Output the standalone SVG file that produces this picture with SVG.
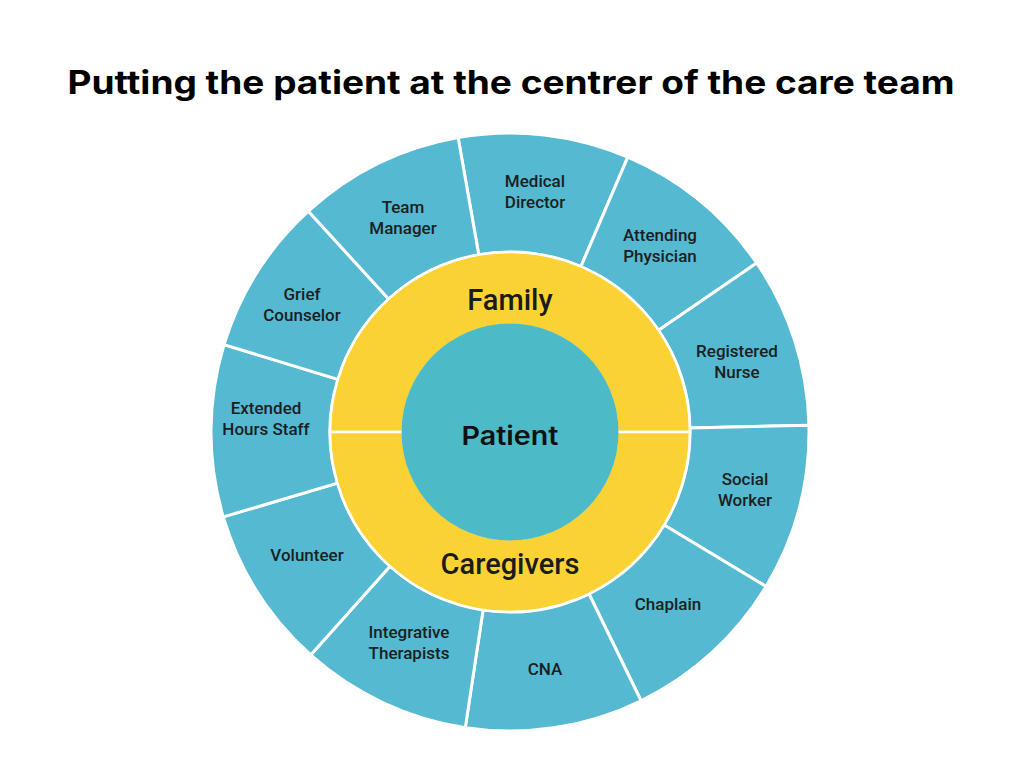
<svg xmlns="http://www.w3.org/2000/svg" width="1024" height="765" viewBox="0 0 1024 765">
<style>
.seg{fill:#54B9D1;stroke:#fff;stroke-width:3;stroke-linejoin:round}
.ring{fill:#FBD234;stroke:#fff;stroke-width:2.5}
.core{fill:#4CBBC7;stroke:none}
.lbl{font-family:Roboto,"Liberation Sans",sans-serif;font-weight:500;font-size:17px;fill:#1b1f22;text-anchor:middle}
.big{font-family:Roboto,"Liberation Sans",sans-serif;font-weight:500;font-size:29px;fill:#1b1b1b;text-anchor:middle}
.title{font-family:Inter,"Liberation Sans",sans-serif;font-weight:700;font-size:32px;fill:#000;text-anchor:middle}
.pat{font-family:Inter,"Liberation Sans",sans-serif;font-weight:600;font-size:26px;fill:#111;text-anchor:middle}
</style>
<rect width="1024" height="765" fill="#fff"/>
<text class="title" x="511" y="94" textLength="887" lengthAdjust="spacingAndGlyphs">Putting the patient at the centrer of the care team</text>

<g id="medical-director">
<path class="seg" d="M478.74 254.73 L458.08 137.54 A299 299 0 0 1 627.79 157.18 L580.91 266.55 A180 180 0 0 0 478.74 254.73 Z"/>
<text class="lbl" x="535" y="187">Medical</text><text class="lbl" x="535" y="208">Director</text>
</g>
<g id="attending-physician">
<path class="seg" d="M580.91 266.55 L627.79 157.18 A299 299 0 0 1 756.71 263.07 L658.52 330.31 A180 180 0 0 0 580.91 266.55 Z"/>
<text class="lbl" x="660" y="241">Attending</text><text class="lbl" x="660" y="262">Physician</text>
</g>
<g id="registered-nurse">
<path class="seg" d="M658.52 330.31 L756.71 263.07 A299 299 0 0 1 808.92 425.22 L689.95 427.92 A180 180 0 0 0 658.52 330.31 Z"/>
<text class="lbl" x="737" y="357">Registered</text><text class="lbl" x="737" y="378">Nurse</text>
</g>
<g id="social-worker">
<path class="seg" d="M689.95 427.92 L808.92 425.22 A299 299 0 0 1 766.03 586.44 L664.13 524.98 A180 180 0 0 0 689.95 427.92 Z"/>
<text class="lbl" x="745" y="485">Social</text><text class="lbl" x="745" y="506">Worker</text>
</g>
<g id="chaplain">
<path class="seg" d="M664.13 524.98 L766.03 586.44 A299 299 0 0 1 641.07 700.74 L588.91 593.78 A180 180 0 0 0 664.13 524.98 Z"/>
<text class="lbl" x="668" y="610">Chaplain</text>
</g>
<g id="cna">
<path class="seg" d="M588.91 593.78 L641.07 700.74 A299 299 0 0 1 465.29 727.64 L483.08 609.98 A180 180 0 0 0 588.91 593.78 Z"/>
<text class="lbl" x="545" y="675">CNA</text>
</g>
<g id="integrative-therapists">
<path class="seg" d="M483.08 609.98 L465.29 727.64 A299 299 0 0 1 310.71 654.90 L390.02 566.19 A180 180 0 0 0 483.08 609.98 Z"/>
<text class="lbl" x="409" y="638">Integrative</text><text class="lbl" x="409" y="659">Therapists</text>
</g>
<g id="volunteer">
<path class="seg" d="M390.02 566.19 L310.71 654.90 A299 299 0 0 1 223.31 516.92 L337.41 483.12 A180 180 0 0 0 390.02 566.19 Z"/>
<text class="lbl" x="307" y="561">Volunteer</text>
</g>
<g id="extended-hours-staff">
<path class="seg" d="M337.41 483.12 L223.31 516.92 A299 299 0 0 1 224.07 344.58 L337.87 379.37 A180 180 0 0 0 337.41 483.12 Z"/>
<text class="lbl" x="266" y="414">Extended</text><text class="lbl" x="266" y="435">Hours Staff</text>
</g>
<g id="grief-counselor">
<path class="seg" d="M337.87 379.37 L224.07 344.58 A299 299 0 0 1 308.38 211.20 L388.63 299.08 A180 180 0 0 0 337.87 379.37 Z"/>
<text class="lbl" x="302" y="300">Grief</text><text class="lbl" x="302" y="321">Counselor</text>
</g>
<g id="team-manager">
<path class="seg" d="M388.63 299.08 L308.38 211.20 A299 299 0 0 1 458.08 137.54 L478.74 254.73 A180 180 0 0 0 388.63 299.08 Z"/>
<text class="lbl" x="403" y="213">Team</text><text class="lbl" x="403" y="234">Manager</text>
</g>

<g id="family">
<path class="ring" d="M330 432 A180 180 0 0 1 690 432 L617 432 A107 107 0 0 0 403 432 Z"/>
<text class="big" x="510" y="310">Family</text>
</g>
<g id="caregivers">
<path class="ring" d="M330 432 A180 180 0 0 0 690 432 L617 432 A107 107 0 0 1 403 432 Z"/>
<text class="big" x="510" y="574">Caregivers</text>
</g>
<g id="patient">
<circle class="core" cx="510" cy="432" r="108.5"/>
<text class="pat" x="510" y="445" textLength="97" lengthAdjust="spacingAndGlyphs">Patient</text>
</g>
<g id="connectors"></g>
</svg>
